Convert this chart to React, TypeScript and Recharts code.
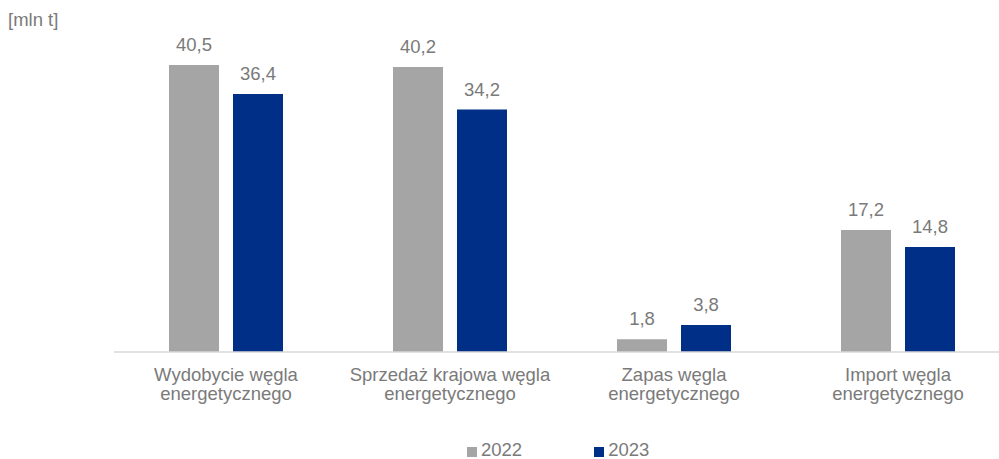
import { BarChart, Bar, XAxis, YAxis, LabelList, Legend } from "recharts";

const categories = [
  "Wydobycie węgla\nenergetycznego",
  "Sprzedaż krajowa węgla\nenergetycznego",
  "Zapas węgla\nenergetycznego",
  "Import węgla\nenergetycznego",
];
const values2022 = [40.5, 40.2, 1.8, 17.2];
const values2023 = [36.4, 34.2, 3.8, 14.8];
const seriesNames = ["2022", "2023"];
const unitLabel = "[mln t]";

const COLORS = ["#A5A5A5", "#002F87"];
const TEXT = "#7A7A7A";
const FONT = "'Liberation Sans', Arial, sans-serif";
const FS = 18.5;

const data = categories.map((name, i) => ({
  name,
  y2022: values2022[i],
  y2023: values2023[i],
}));

const fmt = (v: any) => String(v).replace(".", ",");

const CategoryTick = ({ x, y, payload }: any) => {
  const lines = String(payload.value).split("\n");
  return (
    <text x={x} y={y} textAnchor="middle" fill={TEXT} fontSize={FS} fontFamily={FONT}>
      {lines.map((line, i) => (
        <tspan key={i} x={x} dy={i === 0 ? 29 : 19}>
          {line}
        </tspan>
      ))}
    </text>
  );
};

const LegendContent = () => (
  <div style={{ display: "flex", fontFamily: FONT, fontSize: FS, lineHeight: "20px", color: TEXT }}>
    {seriesNames.map((s, i) => (
      <div key={s} style={{ display: "flex", alignItems: "flex-start", marginRight: i === 0 ? 72 : 0 }}>
        <span style={{ width: 10, height: 10, marginTop: 7, marginRight: 4, background: COLORS[i] }} />
        <span>{s}</span>
      </div>
    ))}
  </div>
);

export default function App() {
  return (
    <div
      style={{
        position: "absolute",
        left: 0,
        top: 0,
        width: 999,
        height: 459,
        overflow: "hidden",
        background: "#fff",
      }}
    >
      <div
        style={{
          position: "absolute",
          left: 8,
          top: 10,
          fontFamily: FONT,
          fontSize: FS,
          lineHeight: "20px",
          color: TEXT,
        }}
      >
        {unitLabel}
      </div>
      <BarChart
        width={1012}
        height={459}
        data={data}
        margin={{ top: 33, right: 2, bottom: 0, left: 114 }}
        barSize={50}
        barGap={14}
      >
        <XAxis
          dataKey="name"
          height={87}
          tickLine={false}
          tickSize={0}
          tickMargin={0}
          interval={0}
          axisLine={{ stroke: "#D9D9D9", strokeWidth: 1.5 }}
          tick={<CategoryTick />}
        />
        <YAxis hide domain={[0, 45]} />
        <Legend
          layout="vertical"
          align="center"
          verticalAlign="bottom"
          content={<LegendContent />}
          wrapperStyle={{ top: 440, left: 467, width: 300 }}
        />
        <Bar dataKey="y2022" name={seriesNames[0]} fill={COLORS[0]} isAnimationActive={false}>
          <LabelList
            dataKey="y2022"
            position="top"
            offset={14}
            formatter={fmt}
            fill={TEXT}
            fontSize={FS}
            fontFamily={FONT}
          />
        </Bar>
        <Bar dataKey="y2023" name={seriesNames[1]} fill={COLORS[1]} isAnimationActive={false}>
          <LabelList
            dataKey="y2023"
            position="top"
            offset={14}
            formatter={fmt}
            fill={TEXT}
            fontSize={FS}
            fontFamily={FONT}
          />
        </Bar>
      </BarChart>
    </div>
  );
}
